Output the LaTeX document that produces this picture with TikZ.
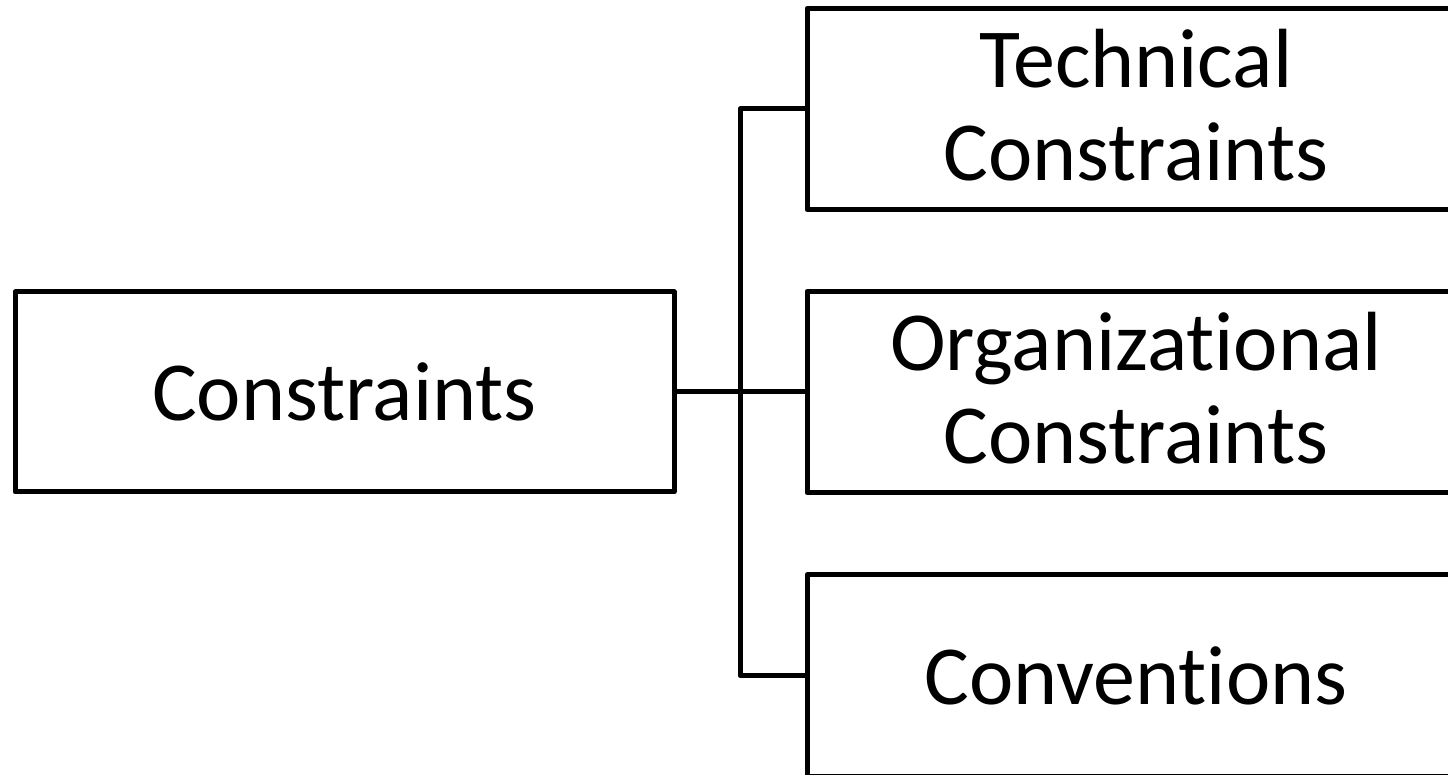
\documentclass[tikz,border=0pt]{standalone}
\usepackage{fontspec}
\setmainfont{Carlito}[Ligatures=NoCommon]
\begin{document}
\begin{tikzpicture}[x=0.5pt,y=-0.5pt,
  box/.style={draw=black,line width=2.5pt,line join=round,rectangle,inner sep=0pt,
    align=center,font=\fontsize{42}{46.5}\selectfont},
  leftbox/.style={box,minimum width=329.5pt,minimum height=100pt},
  rightbox/.style={box,minimum width=329pt,minimum height=100.5pt},
  twoline/.style={text depth=4pt},
  wire/.style={draw=black,line width=2.5pt,line join=round}]
\useasboundingbox (0,0) rectangle (1448,775);
% root and the three kinds of constraint
\node[leftbox] (root) at (344.5,392) {Constraints};
\node[rightbox,twoline] (tech) at (1136,109) {Technical\\Constraints};
\node[rightbox,twoline] (org) at (1136,392) {Organizational\\Constraints};
\node[rightbox] (conv) at (1136,675.5) {Conventions};
% tree connectors
\coordinate (joint) at (740,392);
\draw[wire] (root.east) -- (org.west);
\draw[wire] (tech.west) -| (joint) |- (conv.west);
\end{tikzpicture}
\end{document}
